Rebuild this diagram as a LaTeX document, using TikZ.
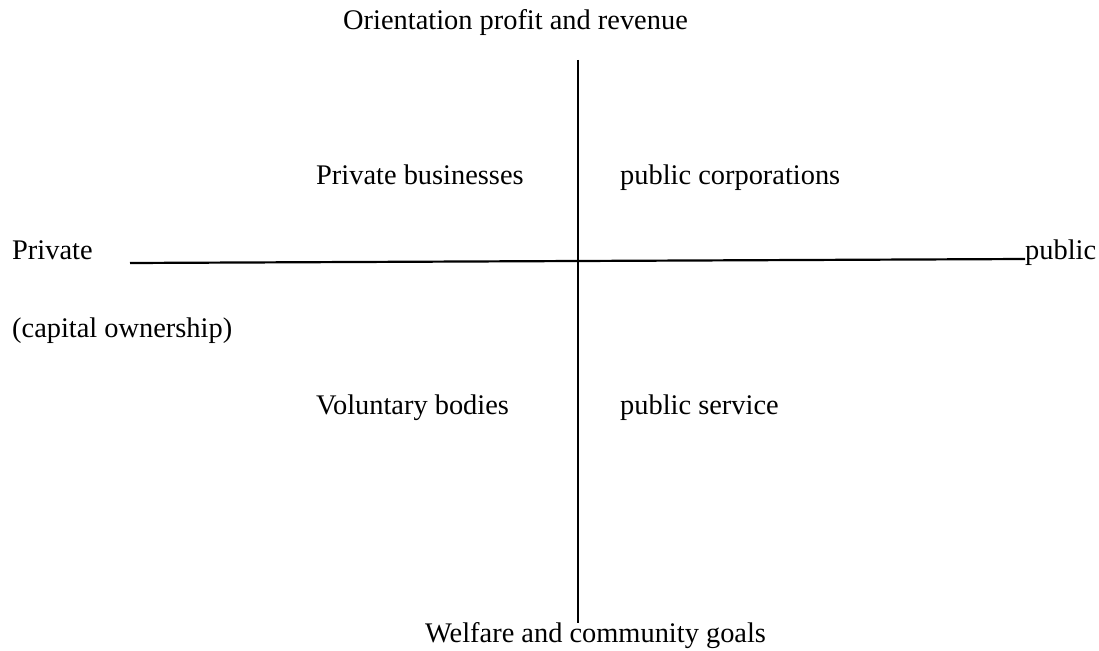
\documentclass[tikz,border=0pt]{standalone}
\usepackage{fontspec}
\setmainfont{Liberation Serif}
\begin{document}
\begin{tikzpicture}[x=1pt,y=-1pt,
  lbl/.style={inner sep=0pt,anchor=base west,font=\fontsize{28.4}{34}\selectfont},
  axis/.style={line width=2.2pt,black}]
\useasboundingbox (0,0) rectangle (1099,650);
\node[lbl] (top) at (343,30) {Orientation profit and revenue};
\node[lbl] (pb) at (316,184) {Private businesses};
\node[lbl] (pc) at (620,184) {public corporations};
\node[lbl] (priv) at (12,259) {Private};
\node[lbl] (pub) at (1025,259) {public};
\node[lbl] (cap) at (12,337) {(capital ownership)};
\node[lbl] (vb) at (316,414) {Voluntary bodies};
\node[lbl] (ps) at (620,414) {public service};
\node[lbl] (bot) at (425,642) {Welfare and community goals};
\coordinate (vt) at (578,60);
\coordinate (vb2) at (578,623);
\coordinate (hl) at (130,263);
\coordinate (hr) at (1025,259);
\draw[axis] (vt) -- (vb2);
\draw[axis] (hl) -- (hr);
\end{tikzpicture}
\end{document}
